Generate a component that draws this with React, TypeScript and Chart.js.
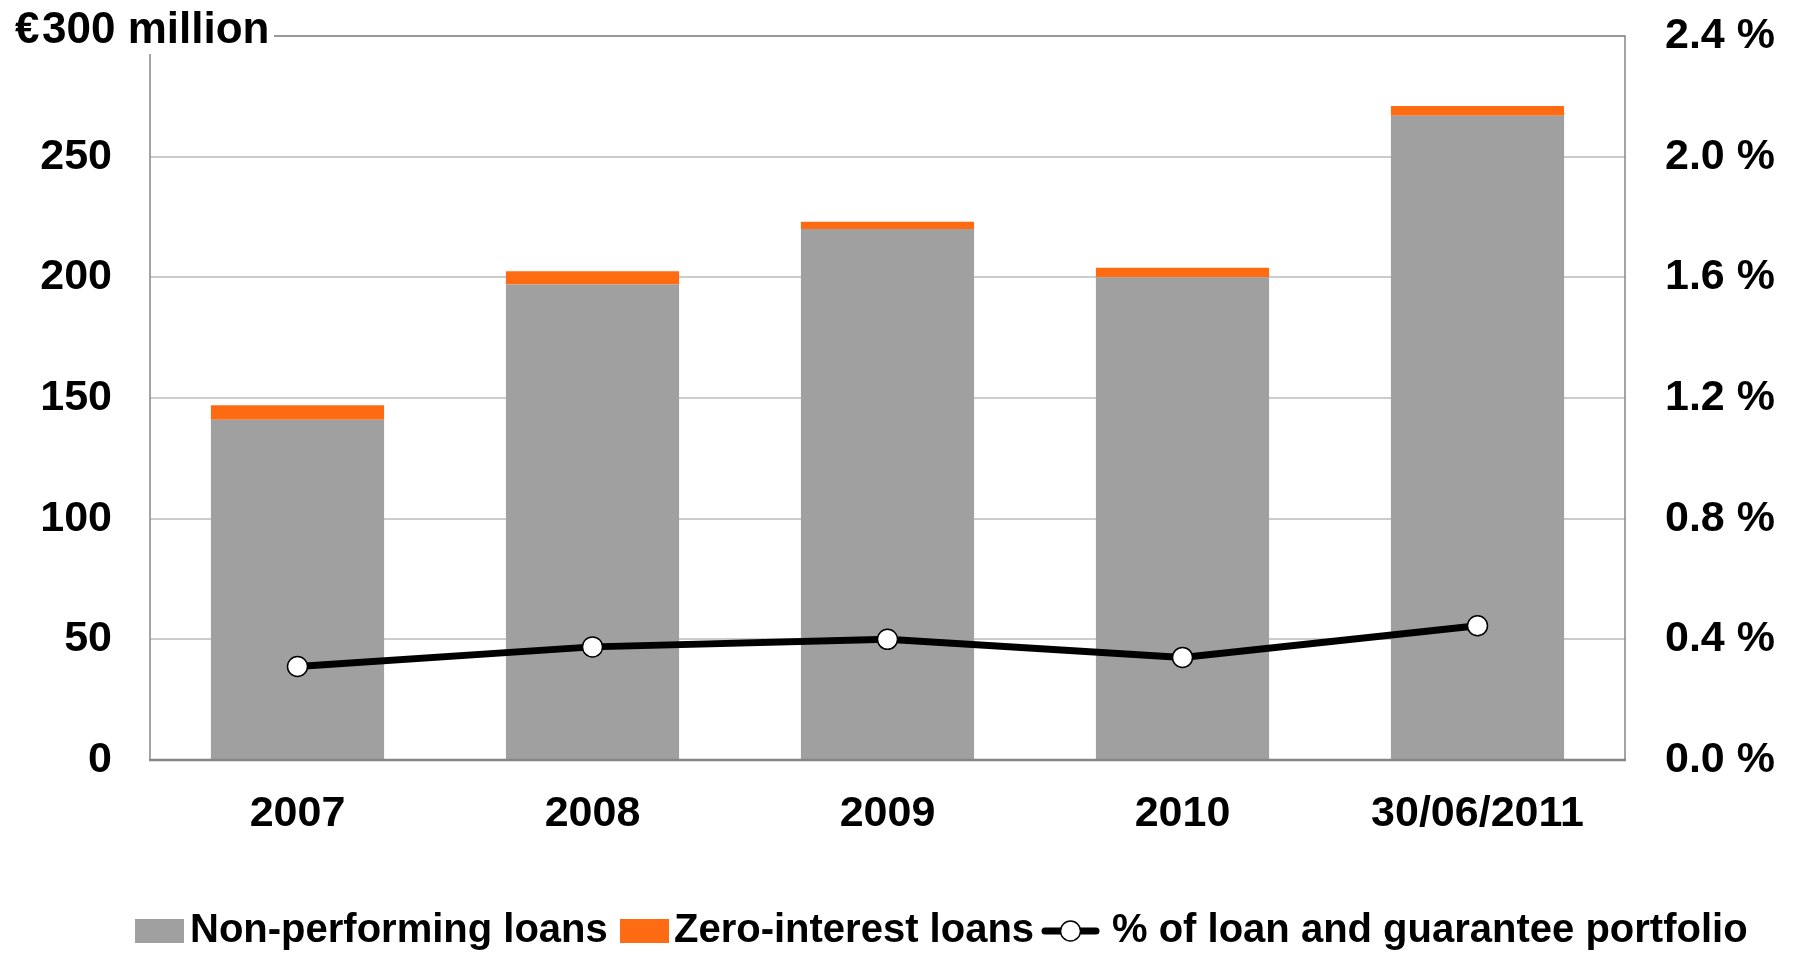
import React, { useEffect, useRef } from "react";
import { Chart, registerables } from "chart.js";

Chart.register(...registerables);

const categories = ["2007", "2008", "2009", "2010", "30/06/2011"];
const nonPerformingLoans = [141, 197, 220, 200, 267];
const zeroInterestLoans = [6, 5.5, 3, 4, 4];
const portfolioPct = [0.31, 0.375, 0.4, 0.34, 0.445];

const legendLabels = ["Non-performing loans", "Zero-interest loans", "% of loan and guarantee portfolio"];
const titleText = "€300 million";

const FONT = "'Liberation Sans', Arial, Helvetica, sans-serif";
const GRAY = "#a0a0a0";
const ORANGE = "#ff6b12";
const FRAME = "#868686";

const W = 1798;
const H = 955;
const PLOT_LEFT = 150;
const PLOT_RIGHT = 1625;
const PLOT_TOP = 36;
const PLOT_BOTTOM = 760;

const decorPlugin = {
  id: "decor",
  afterDraw(chart: any) {
    const ctx = chart.ctx;
    const area = chart.chartArea;
    ctx.save();
    // frame
    ctx.strokeStyle = FRAME;
    ctx.lineWidth = 1.5;
    ctx.beginPath();
    ctx.moveTo(area.left, area.top);
    ctx.lineTo(area.right, area.top);
    ctx.lineTo(area.right, area.bottom);
    ctx.moveTo(area.left, area.top);
    ctx.lineTo(area.left, area.bottom);
    ctx.stroke();
    ctx.lineWidth = 2.5;
    ctx.beginPath();
    ctx.moveTo(area.left - 1, area.bottom);
    ctx.lineTo(area.right + 1, area.bottom);
    ctx.stroke();

    // title
    ctx.fillStyle = "#ffffff";
    ctx.fillRect(0, 0, 274, 54);
    ctx.fillStyle = "#000000";
    ctx.font = `bold 44px ${FONT}`;
    ctx.textBaseline = "alphabetic";
    ctx.textAlign = "left";
    const euro = titleText.slice(0, 1);
    const rest = titleText.slice(1);
    ctx.fillText(euro, 15, 43);
    ctx.fillText(rest, 42, 43);

    // legend
    ctx.font = `bold 40px ${FONT}`;
    ctx.textBaseline = "middle";
    const cy = 931;
    ctx.fillStyle = GRAY;
    ctx.fillRect(135, 919, 49, 24);
    ctx.fillStyle = "#000";
    ctx.fillText(legendLabels[0], 190, cy);
    ctx.fillStyle = ORANGE;
    ctx.fillRect(620, 919, 49, 24);
    ctx.fillStyle = "#000";
    ctx.fillText(legendLabels[1], 674, cy);
    ctx.strokeStyle = "#000";
    ctx.lineWidth = 7;
    ctx.lineCap = "round";
    ctx.beginPath();
    ctx.moveTo(1045, cy);
    ctx.lineTo(1096, cy);
    ctx.stroke();
    ctx.lineCap = "butt";
    ctx.beginPath();
    ctx.arc(1070.5, cy, 10, 0, Math.PI * 2);
    ctx.fillStyle = "#fff";
    ctx.fill();
    ctx.lineWidth = 1.5;
    ctx.stroke();
    ctx.fillStyle = "#000";
    ctx.fillText(legendLabels[2], 1112, cy);
    ctx.restore();
  },
};

export default function App() {
  const ref = useRef<HTMLCanvasElement | null>(null);

  useEffect(() => {
    if (!ref.current) return;
    const chart = new Chart(ref.current, {
      type: "bar",
      data: {
        labels: categories,
        datasets: [
          {
            type: "line",
            label: legendLabels[2],
            data: portfolioPct,
            yAxisID: "y1",
            borderColor: "#000",
            borderWidth: 7,
            pointRadius: 10,
            pointBackgroundColor: "#fff",
            pointBorderColor: "#000",
            pointBorderWidth: 1.5,
            tension: 0,
            order: 0,
          } as any,
          {
            type: "bar",
            label: legendLabels[0],
            data: nonPerformingLoans,
            backgroundColor: GRAY,
            yAxisID: "y",
            stack: "s",
            order: 1,
            barPercentage: 0.587,
            categoryPercentage: 1,
          },
          {
            type: "bar",
            label: legendLabels[1],
            data: zeroInterestLoans,
            backgroundColor: ORANGE,
            yAxisID: "y",
            stack: "s",
            order: 1,
            barPercentage: 0.587,
            categoryPercentage: 1,
          },
        ],
      },
      options: {
        responsive: false,
        animation: false,
        layout: { padding: { top: PLOT_TOP, left: 0, right: 0, bottom: 0 } },
        plugins: {
          legend: { display: false },
          tooltip: { enabled: false },
          title: { display: false },
        },
        scales: {
          x: {
            stacked: true,
            grid: { display: false, drawTicks: false },
            border: { display: false },
            ticks: {
              color: "#000",
              font: { family: FONT, size: 43, weight: "bold" },
              padding: 28,
              maxRotation: 0,
              autoSkip: false,
            },
            afterFit: (s: any) => {
              s.height = H - PLOT_BOTTOM;
              s.paddingLeft = 0;
              s.paddingRight = 0;
            },
          },
          y: {
            position: "left",
            stacked: true,
            min: 0,
            max: 300,
            grid: { color: "#cccccc", lineWidth: 2, drawTicks: false },
            border: { display: false },
            ticks: {
              stepSize: 50,
              color: "#000",
              font: { family: FONT, size: 43, weight: "bold" },
              padding: 38,
              callback: (v: any) => (Number(v) >= 300 ? "" : String(v)),
            },
            afterFit: (s: any) => {
              s.width = PLOT_LEFT;
              s.paddingTop = 0;
              s.paddingBottom = 0;
            },
          },
          y1: {
            position: "right",
            stacked: false,
            min: 0,
            max: 2.4,
            grid: { display: false, drawTicks: false },
            border: { display: false },
            ticks: {
              stepSize: 0.4,
              color: "#000",
              font: { family: FONT, size: 43, weight: "bold" },
              padding: 40,
              callback: (v: any) => Number(v).toFixed(1) + " %",
            },
            afterFit: (s: any) => {
              s.width = W - PLOT_RIGHT;
              s.paddingTop = 0;
              s.paddingBottom = 0;
            },
          },
        },
      },
      plugins: [decorPlugin],
    });
    return () => chart.destroy();
  }, []);

  return (
    <div style={{ position: "fixed", left: 0, top: 0, width: W, height: H, background: "#fff" }}>
      <canvas ref={ref} width={W} height={H} style={{ display: "block" }} />
    </div>
  );
}
